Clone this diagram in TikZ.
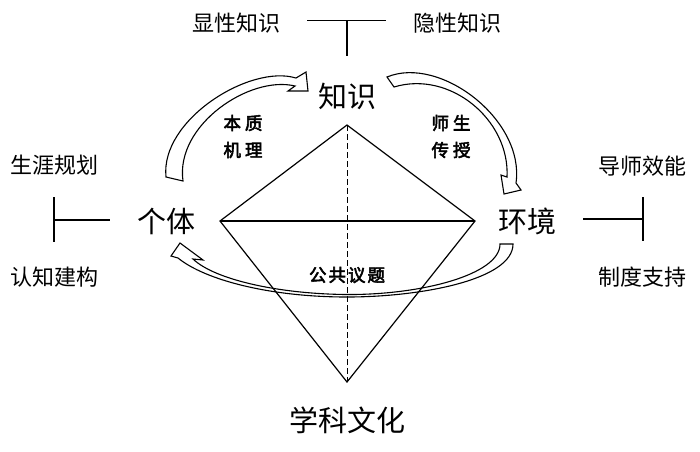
\documentclass[tikz,border=0pt]{standalone}
\usepackage{fontspec}
\newfontfamily\cjk{Noto Sans CJK SC}
\newfontfamily\cjkb[FakeBold=3]{Noto Sans CJK SC}
\begin{document}
\begin{tikzpicture}[x=1pt,y=-1pt,
  every node/.style={font=\cjk, inner sep=0pt},
  big/.style={font=\cjk\fontsize{29}{30}\selectfont},
  mid/.style={font=\cjk\fontsize{22}{24}\selectfont},
  lab/.style={font=\cjkb\fontsize{17.5}{19}\selectfont},
  edge/.style={line width=1.2pt},
  bar/.style={line width=1.3pt},
  carrow/.style={line width=1.1pt, line join=miter}]
\useasboundingbox (0,0) rectangle (700,451);

% labels
\node[mid] (xian) at (236,23) {显性知识};
\node[mid] (yin) at (457,23) {隐性知识};
\node[big] (zs) at (347,96) {知识};
\node[big] (gt) at (166,221) {个体};
\node[big] (hj) at (527,221) {环境};
\node[big] (xk) at (347,420) {学科文化};
\node[mid] (sy) at (54,165) {生涯规划};
\node[mid] (rz) at (54,277) {认知建构};
\node[mid] (ds) at (642,166) {导师效能};
\node[mid] (zd) at (642,277) {制度支持};
\node[lab] (bz) at (243,123) {本\hspace{4pt}质};
\node[lab] (jl) at (243,150) {机\hspace{4pt}理};
\node[lab] (ss) at (451,123) {师\hspace{4pt}生};
\node[lab] (cs) at (451,150) {传\hspace{4pt}授};
\node[lab] (gg) at (347,275) {公\hspace{2pt}共\hspace{2pt}议\hspace{2pt}题};

% T bars
\coordinate (tl) at (307,20.5); \coordinate (tr) at (386,20.5);
\coordinate (tm) at (347,20.5); \coordinate (tb) at (347,56);
\draw[bar] (tl) -- (tr); \draw[bar] (tm) -- (tb);
\coordinate (lt) at (54,197); \coordinate (lb) at (54,242);
\coordinate (lm) at (54,220); \coordinate (le) at (110,220);
\draw[bar] (lt) -- (lb); \draw[bar] (lm) -- (le);
\coordinate (rt) at (643,197); \coordinate (rb) at (643,241);
\coordinate (rm) at (643,219); \coordinate (re) at (583,219);
\draw[bar] (rt) -- (rb); \draw[bar] (rm) -- (re);

% diamond
\coordinate (T) at (347,125); \coordinate (L) at (220,221);
\coordinate (R) at (475,221); \coordinate (B) at (347,382);
\draw[edge] (L) -- (T) -- (R) -- (B) -- cycle;
\draw[line width=2pt] (L) -- (R);
\draw[line width=1pt, dash pattern=on 6pt off 3pt] (T) -- (B);

% curved arrow: individual -> knowledge
\draw[carrow] (166,177) .. controls (160,120) and (250,64) .. (296,78)
  -- (306,72) -- (308,91) -- (288,91) -- (295,86)
  .. controls (250,75) and (175,125) .. (183,181) -- cycle;

% curved arrow: knowledge -> environment
\draw[carrow] (387,77) .. controls (440,55) and (525,120) .. (516,183)
  -- (521,190) -- (504,194) -- (501,175) -- (507,177)
  .. controls (510,120) and (450,70) .. (394,87) -- cycle;

% curved arrow: environment -> individual
\draw[carrow] (500,244) -- (513,244)
  .. controls (513,280) and (420,297) .. (347,297)
  .. controls (270,297) and (205,280) .. (178,258)
  -- (171,256) -- (180,243) -- (203,260) -- (193,259)
  .. controls (215,280) and (280,294) .. (347,294.5)
  .. controls (420,295) and (500,275) .. (500,244) -- cycle;
\end{tikzpicture}
\end{document}
